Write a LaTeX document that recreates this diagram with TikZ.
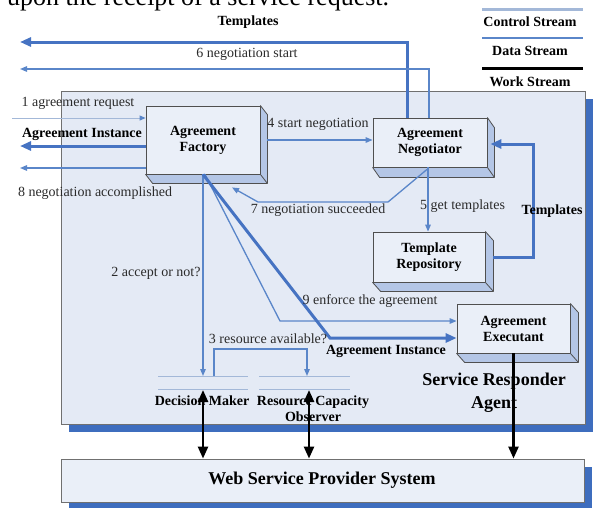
\documentclass[tikz,border=0pt]{standalone}
\usepackage{fontspec}
\setmainfont{Liberation Serif}
\usetikzlibrary{arrows.meta,calc,backgrounds}
\definecolor{agentbg}{HTML}{E4EAF5}
\definecolor{shadowblue}{HTML}{3E6DBE}
\definecolor{facefill}{HTML}{EAEFF8}
\definecolor{sidefill}{HTML}{B4C6E6}
\definecolor{datablue}{HTML}{4673C2}
\definecolor{ctrlblue}{HTML}{5A86C9}
\definecolor{lightline}{HTML}{A3B8D8}
\definecolor{edgegray}{HTML}{4F4F4F}
\definecolor{framegray}{HTML}{707070}
\definecolor{txtgray}{HTML}{2A2A2A}
\tikzset{
  box/.style={draw=edgegray, line width=0.8pt, fill=facefill, align=center,
    font=\fontsize{14}{16}\selectfont\bfseries, inner sep=0pt},
  sideface/.style={draw=edgegray, line width=0.8pt, fill=sidefill, line join=round},
  frame/.style={draw=framegray, line width=0.9pt, inner sep=0pt},
  data/.style={draw=datablue, line width=3pt, -{Triangle[length=11pt,width=9pt]}},
  ctrl/.style={draw=ctrlblue, line width=1.3pt, -{Triangle[length=7pt,width=5.5pt]}},
  reqline/.style={draw=lightline, line width=1pt, -{Triangle[length=6pt,width=5pt,color=ctrlblue]}},
  work/.style={draw=black, line width=2.5pt},
  workhead/.style={-{Triangle[length=12pt,width=10pt]}},
  workboth/.style={{Triangle[length=12pt,width=10pt]}-{Triangle[length=12pt,width=10pt]}},
  lbl/.style={font=\fontsize{14}{16}\selectfont, text=txtgray, inner sep=0pt},
  blbl/.style={font=\fontsize{14}{16}\selectfont\bfseries, inner sep=0pt, align=center},
  biglbl/.style={font=\fontsize{18}{23}\selectfont\bfseries, inner sep=0pt, align=center},
  dmline/.style={draw=lightline, line width=1pt},
}
\begin{document}
\begin{tikzpicture}[x=1pt,y=-1pt]
\useasboundingbox (0,0) rectangle (593,507);

% clipped line of page text at the top
\begin{scope}
  \clip (0,0) rectangle (593,507);
  \node[anchor=base west, inner sep=0pt, font=\fontsize{26}{30}\selectfont] (pagetxt) at (7,5) {upon the receipt of a service request.};
\end{scope}

% legend
\coordinate (lgA) at (482,9);  \coordinate (lgB) at (583,9);
\coordinate (lgC) at (482,38); \coordinate (lgD) at (583,38);
\coordinate (lgE) at (482,68); \coordinate (lgF) at (583,68);
\draw[draw=lightline, line width=3pt] (lgA) -- (lgB);
\draw[draw=ctrlblue, line width=2.5pt] (lgC) -- (lgD);
\draw[draw=black, line width=3pt] (lgE) -- (lgF);
\node[blbl] (lgctrl) at (530,22) {Control Stream};
\node[blbl] (lgdata) at (530,51) {Data Stream};
\node[blbl] (lgwork) at (530,82) {Work Stream};

% agent container and web system box
\node[frame, fill=agentbg, minimum width=524, minimum height=333] (agent) at (323,257.5) {};
\node[frame, fill=facefill, minimum width=523, minimum height=43] (web) at (322.5,480.5) {};
\node[biglbl] (webtxt) at (322,480) {Web Service Provider System};
\begin{scope}[on background layer]
  \fill[shadowblue] ([shift={(8,8)}]agent.north west) rectangle ([shift={(8,8)}]agent.south east);
  \fill[shadowblue] ([shift={(8,8)}]web.north west) rectangle ([shift={(8,8)}]web.south east);
\end{scope}
\node[biglbl] (agenttxt) at (494,393) {Service Responder\\Agent};

% 3D boxes
\node[box, minimum width=114, minimum height=68] (fac) at (203,140) {Agreement\\Factory};
\node[box, minimum width=114, minimum height=49] (neg) at (430,142.5) {Agreement\\Negotiator};
\node[box, minimum width=112, minimum height=50] (tpl) at (429,257) {Template\\Repository};
\node[box, minimum width=113, minimum height=49] (exe) at (513.5,328.5) {Agreement\\Executant};
\foreach \n/\dx/\dy in {fac/7/9, neg/7/10, tpl/8/9, exe/8/9}{
  \draw[sideface] (\n.north east) -- ++(\dx,\dy) -- ($(\n.south east)+(\dx,\dy)$)
     -- ($(\n.south west)+(\dx,\dy)$) -- (\n.south west) -- (\n.south east) -- cycle;
  \draw[edgegray, line width=0.8pt] (\n.south east) -- ++(\dx,\dy);
}

% decision maker / resource capacity observer
\coordinate (dm1a) at (158,376); \coordinate (dm1b) at (248,376);
\coordinate (dm2a) at (158,389); \coordinate (dm2b) at (248,389);
\coordinate (rc1a) at (259,376); \coordinate (rc1b) at (350,376);
\coordinate (rc2a) at (259,389); \coordinate (rc2b) at (350,389);
\draw[dmline] (dm1a) -- (dm1b);
\draw[dmline] (dm2a) -- (dm2b);
\draw[dmline] (rc1a) -- (rc1b);
\draw[dmline] (rc2a) -- (rc2b);
\node[blbl] (dm) at (202,401) {Decision Maker};
\node[blbl] (rc) at (313,409) {Resource Capacity\\Observer};

% coordinates for connectors
\coordinate (tplL) at (20,42);
\coordinate (nsL) at (20,69);
\coordinate (reqS) at (12,118);
\coordinate (aiL) at (20,146);
\coordinate (acL) at (20,168);
\coordinate (b7a) at (388,202);
\coordinate (b7b) at (258,202);
\coordinate (tr1) at (533,257);
\coordinate (tr2) at (533,144);
\coordinate (dmtop) at (203,376);
\coordinate (r3a) at (214,376);
\coordinate (r3b) at (214,349);
\coordinate (r3c) at (307,349);
\coordinate (rctop) at (307,376);
\coordinate (b9) at (280,321);
\coordinate (bAI) at (330,338);
\coordinate (dmbot) at (203,390);
\coordinate (rcbot) at (309,390);

% data / control streams
\draw[data] ([xshift=-23pt]neg.north) |- (tplL);
\draw[ctrl] ([xshift=-1pt]neg.north) |- (nsL);
\draw[reqline] (reqS) -- (reqS -| fac.west);
\draw[data] ([yshift=-6pt]fac.west) -- (aiL);
\draw[ctrl] ([yshift=-28pt]fac.west) -- (acL);
\draw[ctrl] ([xshift=7pt]fac.east) -- (fac.east -| neg.west);
\draw[ctrl] ([xshift=-3pt,yshift=-2pt]neg.south) -- (b7a) -- (b7b) -- ([xshift=29pt,yshift=-13pt]fac.south);
\draw[ctrl] ([xshift=-2pt]neg.south) -- ([xshift=-1pt]tpl.north);
\draw[data] ([xshift=8pt]tpl.east) -- (tr1) -- (tr2) -- ([xshift=3pt,yshift=-1.5pt]neg.east);
\draw[ctrl] (fac.south) -- (dmtop);
\draw[ctrl] (r3a) -- (r3b) -- (r3c) -- (rctop);
\draw[ctrl] ([xshift=2pt]fac.south) -- (b9) -- (b9 -| exe.west);
\draw[data] (fac.south) -- (bAI) -- (bAI -| exe.west);

% labels
\node[blbl] (lTplTop) at (248,22) {Templates};
\node[lbl] (l6) at (247,54) {6 negotiation start};
\node[lbl] (l1) at (78,103) {1 agreement request};
\node[blbl] (lAIleft) at (82,134) {Agreement Instance};
\node[lbl] (l8) at (95,193) {8 negotiation accomplished};
\node[lbl] (l4) at (318,124) {4 start negotiation};
\node[lbl] (l7) at (318,210) {7 negotiation succeeded};
\node[lbl, anchor=west] (l5) at (420,206) {5 get templates};
\node[blbl] (lTplRight) at (552,211) {Templates};
\node[lbl] (l2) at (156,273) {2 accept or not?};
\node[lbl] (l9) at (370,301) {9 enforce the agreement};
\node[blbl] (lAIbot) at (386,351) {Agreement Instance};
\node[lbl] (l3) at (268,339) {3 resource available?};

% work streams
\draw[work, workboth] (dmbot) -- (dmbot |- web.north);
\draw[work, workboth] (rcbot) -- (rcbot |- web.north);
\draw[work, workhead] (exe.south) -- (exe.south |- web.north);
\end{tikzpicture}
\end{document}
